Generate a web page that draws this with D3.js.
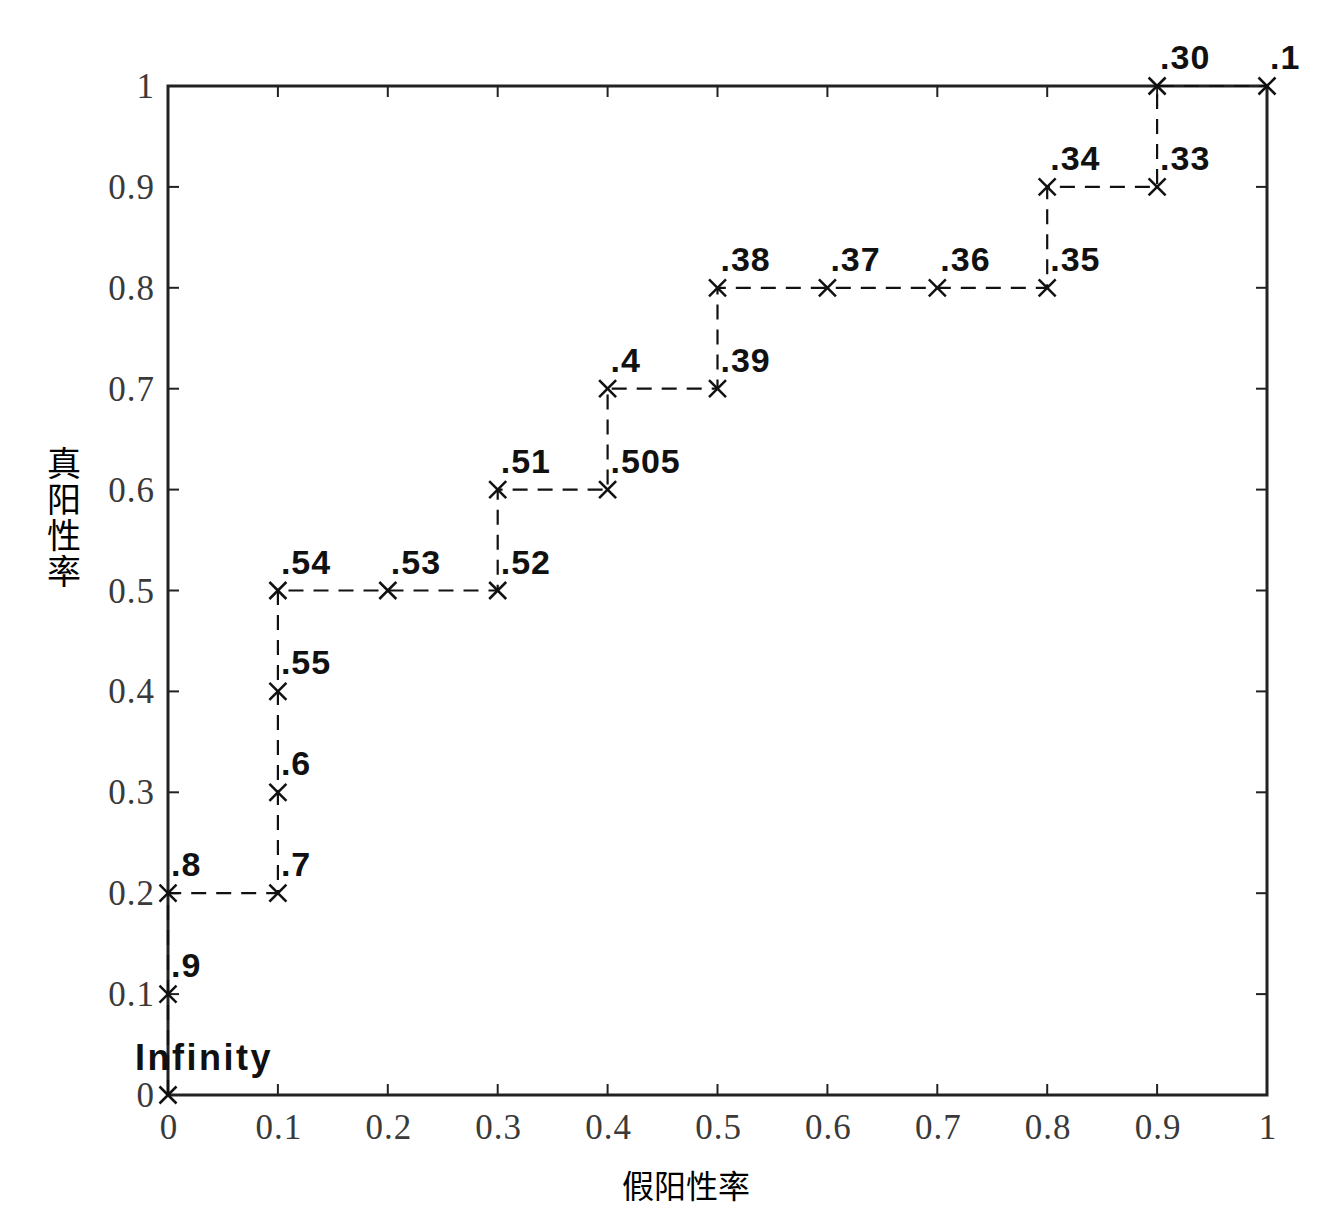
<!DOCTYPE html>
<html>
<head>
<meta charset="utf-8">
<script src="https://cdn.jsdelivr.net/npm/d3@7"></script>
<style>
  body { margin: 0; background: #fff; }
</style>
</head>
<body>
<svg width="1334" height="1226"></svg>
<script>
var fpr = [0, 0, 0, 0.1, 0.1, 0.1, 0.1, 0.2, 0.3, 0.3, 0.4, 0.4, 0.5, 0.5, 0.6, 0.7, 0.8, 0.8, 0.9, 0.9, 1];
var tpr = [0, 0.1, 0.2, 0.2, 0.3, 0.4, 0.5, 0.5, 0.5, 0.6, 0.6, 0.7, 0.7, 0.8, 0.8, 0.8, 0.8, 0.9, 0.9, 1, 1];
var labels = ["Infinity", ".9", ".8", ".7", ".6", ".55", ".54", ".53", ".52", ".51", ".505", ".4", ".39", ".38", ".37", ".36", ".35", ".34", ".33", ".30", ".1"];
var tickVals = [0, 0.1, 0.2, 0.3, 0.4, 0.5, 0.6, 0.7, 0.8, 0.9, 1];
var tickLabels = ["0", "0.1", "0.2", "0.3", "0.4", "0.5", "0.6", "0.7", "0.8", "0.9", "1"];

var svg = d3.select("svg");
var x = d3.scaleLinear().domain([0, 1]).range([168, 1267]);
var y = d3.scaleLinear().domain([0, 1]).range([1095, 86]);

var data = fpr.map(function (d, i) { return {x: d, y: tpr[i], label: labels[i]}; });

// ticks on all four sides, pointing in
var tl = 11;
var g = svg.append("g").attr("stroke", "#222").attr("stroke-width", 2);
tickVals.forEach(function (t) {
    g.append("line").attr("x1", x(t)).attr("x2", x(t)).attr("y1", y(0)).attr("y2", y(0) - tl);
    g.append("line").attr("x1", x(t)).attr("x2", x(t)).attr("y1", y(1)).attr("y2", y(1) + tl);
    g.append("line").attr("y1", y(t)).attr("y2", y(t)).attr("x1", x(0)).attr("x2", x(0) + tl);
    g.append("line").attr("y1", y(t)).attr("y2", y(t)).attr("x1", x(1)).attr("x2", x(1) - tl);
});

svg.append("rect")
    .attr("x", x(0)).attr("y", y(1))
    .attr("width", x(1) - x(0)).attr("height", y(0) - y(1))
    .attr("fill", "none").attr("stroke", "#222").attr("stroke-width", 3);

// tick labels
svg.append("g").selectAll("text")
    .data(tickVals).enter().append("text")
    .attr("x", d => x(d) + 1).attr("y", 1139)
    .attr("text-anchor", "middle")
    .attr("font-family", "Liberation Serif, serif")
    .attr("font-size", 35).attr("letter-spacing", 1).attr("fill", "#3a3a3a")
    .text((d, i) => tickLabels[i]);

svg.append("g").selectAll("text")
    .data(tickVals).enter().append("text")
    .attr("x", 155).attr("y", d => y(d) + 12)
    .attr("text-anchor", "end")
    .attr("font-family", "Liberation Serif, serif")
    .attr("font-size", 35).attr("letter-spacing", 1).attr("fill", "#3a3a3a")
    .text((d, i) => tickLabels[i]);

// ROC path
var line = d3.line().x(d => x(d.x)).y(d => y(d.y));
svg.append("path")
    .datum(data)
    .attr("d", line)
    .attr("fill", "none")
    .attr("stroke", "#111")
    .attr("stroke-width", 2.2)
    .attr("stroke-dasharray", "15,10");

// markers
var m = 8.5;
var mk = svg.append("g").selectAll("g").data(data).enter().append("g")
    .attr("transform", d => "translate(" + x(d.x) + "," + y(d.y) + ")")
    .attr("stroke", "#111").attr("stroke-width", 2.5);
mk.append("line").attr("x1", -m).attr("y1", -m).attr("x2", m).attr("y2", m);
mk.append("line").attr("x1", -m).attr("y1", m).attr("x2", m).attr("y2", -m);

// point labels
svg.append("g").selectAll("text").data(data).enter().append("text")
    .attr("x", d => d.label == "Infinity" ? x(d.x) - 33 : x(d.x) + 3)
    .attr("y", d => d.label == "Infinity" ? y(d.y) - 25 : y(d.y) - 17)
    .attr("font-family", "Liberation Sans, Arial, sans-serif")
    .attr("font-weight", "bold")
    .attr("font-size", d => d.label == "Infinity" ? 36 : 34)
    .attr("letter-spacing", d => d.label == "Infinity" ? 2.5 : 1)
    .attr("fill", "#111")
    .text(d => d.label);

// axis titles
svg.append("text")
    .attr("x", 686).attr("y", 1198)
    .attr("text-anchor", "middle")
    .attr("font-family", "Noto Sans CJK SC")
    .attr("font-size", 32)
    .text("假阳性率");

svg.append("text")
    .attr("x", 64).attr("y", 446)
    .attr("font-family", "Noto Sans CJK SC")
    .attr("font-size", 34)
    .attr("letter-spacing", 2)
    .style("writing-mode", "vertical-rl")
    .style("text-orientation", "upright")
    .text("真阳性率");
</script>
</body>
</html>
